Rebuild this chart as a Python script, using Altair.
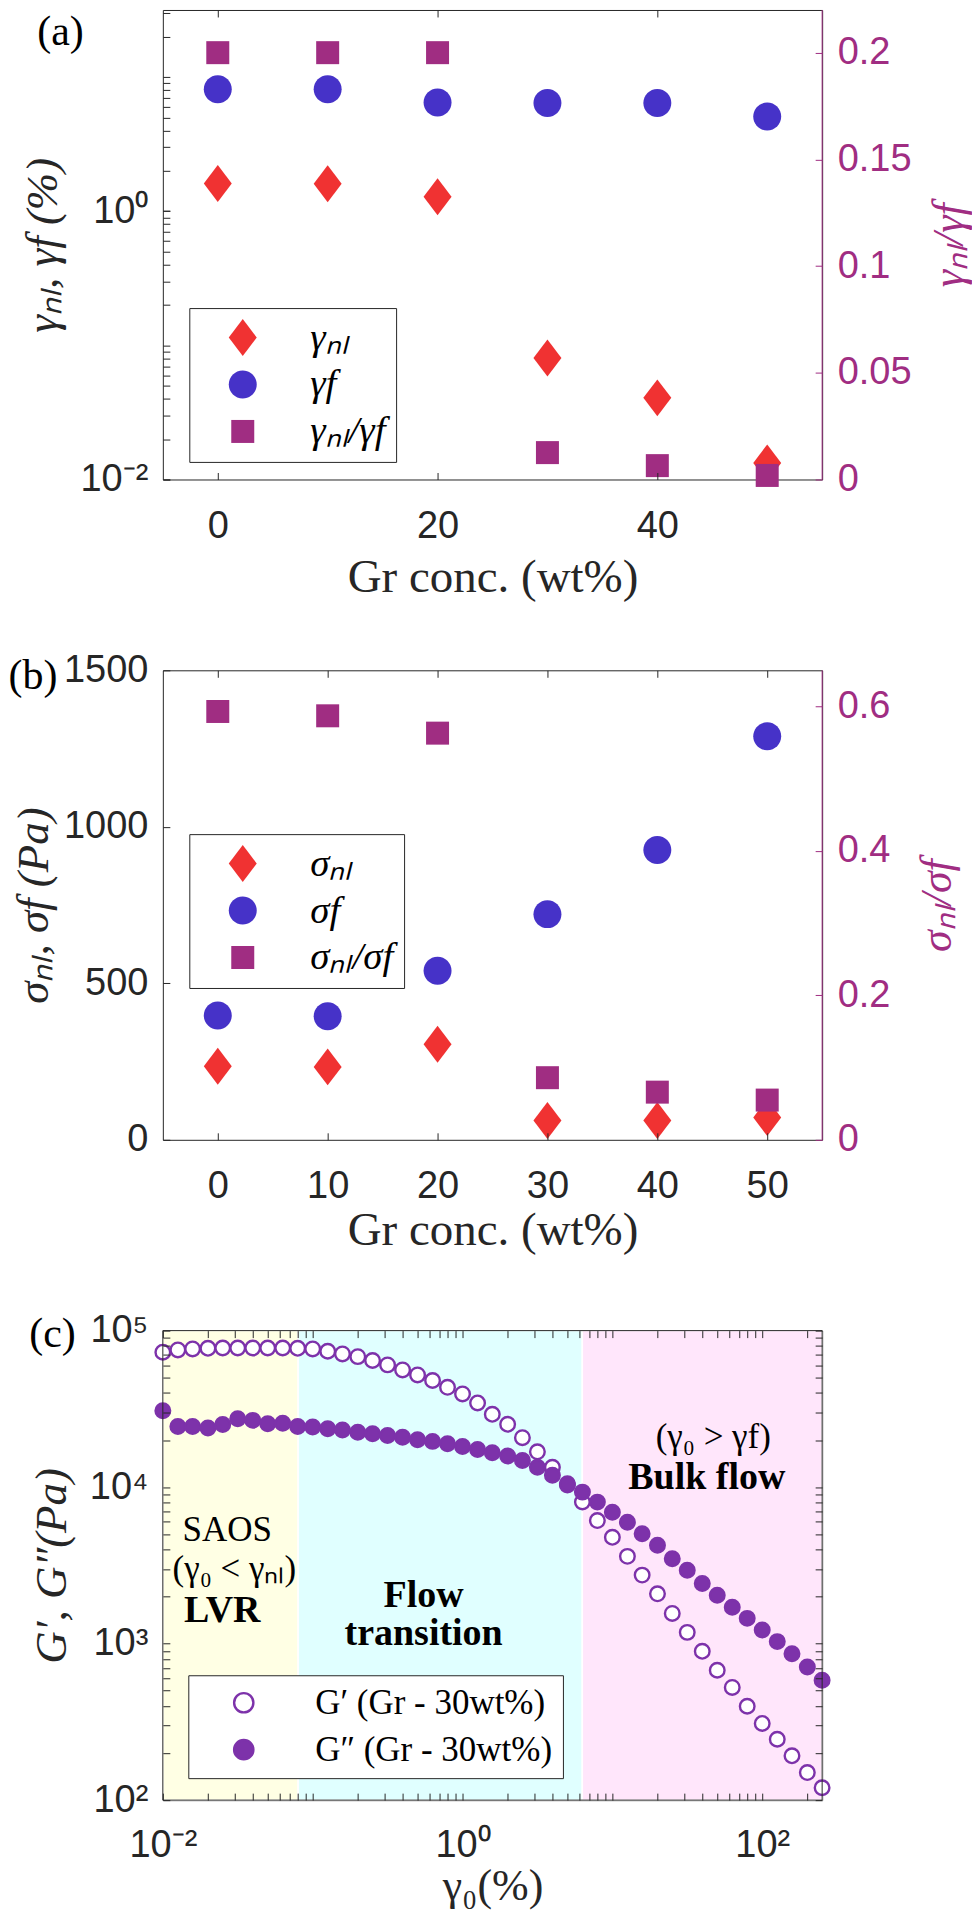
import altair as alt
import pandas as pd

# ---------------- data ----------------
GR_CONC = [0, 10, 20, 30, 40, 50]
GAMMA_NL = [1.61, 1.60, 1.28, 0.0805, 0.0406, 0.0133]
GAMMA_F = [8.1, 8.1, 6.45, 6.4, 6.4, 5.08]
GAMMA_RATIO = [0.200, 0.200, 0.200, 0.0126, 0.0065, 0.0019]

SIGMA_NL = [235, 233, 305, 62, 62, 71]
SIGMA_F = [397, 395, 540, 721, 926, 1289]
SIGMA_RATIO = [0.593, 0.587, 0.563, 0.086, 0.066, 0.055]

GAMMA0 = [0.01, 0.0126, 0.0158, 0.02, 0.0251, 0.0316, 0.0398, 0.0501, 0.0631, 0.0794,
          0.1, 0.126, 0.158, 0.2, 0.251, 0.316, 0.398, 0.501, 0.631, 0.794,
          1, 1.26, 1.58, 2, 2.51, 3.16, 3.98, 5.01, 6.31, 7.94,
          10, 12.6, 15.8, 20, 25.1, 31.6, 39.8, 50.1, 63.1, 79.4,
          100, 126, 158, 200, 251]
G_PRIME = [72800, 75300, 76400, 77100, 77400, 77400, 77400, 77400, 77400, 77100,
           76400, 73800, 71000, 68200, 64400, 60400, 56100, 52100, 48000, 43400,
           39400, 34500, 29200, 25200, 20700, 16800, 13400, 10300, 8040, 6110,
           4780, 3610, 2740, 2080, 1560, 1180, 893, 676, 525, 398,
           309, 245, 192, 150, 120]
G_DPRIME = [30800, 24400, 24400, 23900, 25100, 27300, 26700, 25400, 25600, 24400,
            24200, 23600, 23200, 22400, 21900, 21400, 20800, 20100, 19600, 18900,
            18200, 17400, 16600, 15800, 14800, 13400, 11900, 10500, 9290, 8020,
            6920, 5970, 5040, 4250, 3490, 2940, 2420, 2040, 1710, 1450,
            1220, 1030, 863, 710, 583]

REGION_NAMES = ["LVR", "Flow transition", "Bulk flow"]
REGION_LO = [0.01, 0.08, 6.3]
REGION_HI = [0.08, 6.3, 251.19]

ANNOT_TEXT = ["SAOS", "(γ₀ < γₙₗ)", "(γ₀ > γf)"]
ANNOT_X = [0.0269, 0.030, 47.1]
ANNOT_Y = [5290, 2980, 20750]
BOLD_TEXT = ["LVR", "Flow\ntransition", "Bulk flow"]
BOLD_X = [0.0249, 0.55, 42.7]
BOLD_Y = [1608, 2000, 11360]

SER_A = ["γₙₗ", "γf", "γₙₗ/γf"]
SER_B = ["σₙₗ", "σf", "σₙₗ/σf"]
SER_C = ["G′ (Gr - 30wt%)", "G″ (Gr - 30wt%)"]

# ---------------- style ----------------
RED = "#F03232"
BLUE = "#4632C8"
MAG = "#A02D82"
PURPLE = "#7D32AA"
DARK = "#262626"
SANS = "Liberation Sans"
SERIF = "Liberation Serif"
REGION_COLORS = ["#FFFFE4", "#E0FFFF", "#FFE6FB"]

# custom marker paths (drawn with size 1369 -> 1 unit = 18.5 px)
DIAMOND = "M0,-1L0.757,0L0,1L-0.757,0Z"
CIRCLE = "M0.757,0A0.757,0.757,0,1,1,-0.757,0A0.757,0.757,0,1,1,0.757,0Z"
SQUARE = "M-0.622,-0.622H0.622V0.622H-0.622Z"
MSIZE = 1369

W, H = 660, 470

LOG_A = [0.01, 0.02, 0.03, 0.04, 0.05, 0.06, 0.07, 0.08, 0.09,
         0.1, 0.2, 0.3, 0.4, 0.5, 0.6, 0.7, 0.8, 0.9,
         1, 2, 3, 4, 5, 6, 7, 8, 9, 10, 20, 30]
LOG_CX = [0.01, 0.02, 0.03, 0.04, 0.05, 0.06, 0.07, 0.08, 0.09,
          0.1, 0.2, 0.3, 0.4, 0.5, 0.6, 0.7, 0.8, 0.9,
          1, 2, 3, 4, 5, 6, 7, 8, 9,
          10, 20, 30, 40, 50, 60, 70, 80, 90, 100, 200]
LOG_CY = [100, 200, 300, 400, 500, 600, 700, 800, 900,
          1000, 2000, 3000, 4000, 5000, 6000, 7000, 8000, 9000,
          10000, 20000, 30000, 40000, 50000, 60000, 70000, 80000, 90000, 100000]


def ax(**kw):
    base = dict(offset=-7, tickSize=7, domain=False, grid=False, tickColor=DARK,
                tickWidth=1, labelColor=DARK, labelFont=SANS, labelFontSize=38,
                labelFlush=False, labelOverlap=False, zindex=1)
    base.update(kw)
    return alt.Axis(**base)


def title_kw(text, italic=True, size=45, color=DARK):
    d = dict(title=text, titleFont=SERIF, titleFontSize=size, titleFontWeight="normal",
             titleColor=color, titleBaseline="middle")
    if italic:
        d["titleFontStyle"] = "italic"
    return d


def panel_label(text, px, py, align="center"):
    return alt.Chart(alt.Data(values=[{"t": text}])).mark_text(
        font=SERIF, fontSize=42, align=align, baseline="middle", color="black"
    ).encode(x=alt.value(px), y=alt.value(py), text="t:N")


def panel_ab(values_l, values_r, ser, left_scale, left_axis, right_scale, right_axis,
             xticks, xtitle_y, legend_y, label, left_minor_axis=None):
    df = pd.DataFrame({
        "x": GR_CONC * 3,
        "series": [ser[0]] * 6 + [ser[1]] * 6 + [ser[2]] * 6,
        "value": values_l[0] + values_l[1] + values_r,
    })
    sx = alt.Scale(domain=[-5, 55], nice=False, zero=False)
    leg = alt.Legend(orient="none", legendX=26.5, legendY=legend_y, title=None,
                     direction="vertical", strokeColor=DARK, fillColor="white",
                     padding=10, symbolOffset=24, labelOffset=48, rowPadding=7,
                     symbolSize=MSIZE, symbolStrokeWidth=0, labelFont=SERIF,
                     labelFontStyle="italic", labelFontSize=39, labelColor="black",
                     labelLimit=400)
    color = alt.Color("series:N", scale=alt.Scale(domain=ser, range=[RED, BLUE, MAG]), legend=leg)
    shape = alt.Shape("series:N", scale=alt.Scale(domain=ser, range=[DIAMOND, CIRCLE, SQUARE]), legend=leg)
    left_filter = alt.FieldOneOfPredicate(field="series", oneOf=ser[:2])

    left = alt.Chart(df).transform_filter(left_filter).mark_point(
        filled=True, size=MSIZE, opacity=1, strokeWidth=0).encode(
        x=alt.X("x:Q", scale=sx, axis=ax(orient="bottom", values=xticks, labelPadding=28,
                                          titleY=xtitle_y,
                                          **title_kw("Gr conc. (wt%)", italic=False, size=47))),
        y=alt.Y("value:Q", scale=left_scale, axis=left_axis),
        color=color, shape=shape,
    )
    right = alt.Chart(df).transform_filter(
        alt.FieldEqualPredicate(field="series", equal=ser[2])
    ).mark_point(filled=True, size=MSIZE, opacity=1, strokeWidth=0).encode(
        x=alt.X("x:Q", scale=sx, axis=ax(orient="top", values=xticks, labels=False, title=None)),
        y=alt.Y("value:Q", scale=right_scale, axis=right_axis),
        color=color, shape=shape,
    )
    edge = alt.Chart(alt.Data(values=[{"k": 1}])).mark_rule(color=MAG, strokeWidth=1).encode(
        x=alt.value(W), y=alt.value(0), y2=alt.value(H))
    layers = [left, right]
    if left_minor_axis is not None:
        minor = alt.Chart(df).transform_filter(left_filter).mark_point(opacity=0).encode(
            x=alt.X("x:Q", scale=sx, axis=None),
            y=alt.Y("value:Q", scale=left_scale, axis=left_minor_axis),
        )
        layers.append(minor)
    layers += [edge, label]
    return alt.layer(*layers).resolve_scale(y="independent").resolve_axis(
        x="independent", y="independent").properties(width=W, height=H)


# ---------------- panel (a) ----------------
a_left_axis = ax(orient="left", values=[0.01, 1], labelPadding=15,
                 labelExpr="datum.value == 0.01 ? '10⁻²' : '10⁰'",
                 titleAngle=270, titleX=-127.5, **title_kw("γₙₗ, γf (%)"))
a_left_minor = ax(orient="left", values=LOG_A, labels=False, title=None)
a_right_axis = ax(orient="right", values=[0, 0.05, 0.1, 0.15, 0.2], format="~g", labelPadding=15,
                  labelColor=MAG, tickColor=MAG, titleAngle=270, titleX=134,
                  **title_kw("γₙₗ/γf", color=MAG, size=44))
panel_a = panel_ab([GAMMA_NL, GAMMA_F], GAMMA_RATIO, SER_A,
                   alt.Scale(type="log", domain=[0.01, 31.62], nice=False), a_left_axis,
                   alt.Scale(domain=[0, 0.22], nice=False, zero=False), a_right_axis,
                   [0, 20, 40], 105, 298.4, panel_label("(a)", -102.5, 22),
                   left_minor_axis=a_left_minor)

# ---------------- panel (b) ----------------
b_left_axis = ax(orient="left", values=[0, 500, 1000, 1500], format="d", labelPadding=15,
                 titleAngle=270, titleX=-136.5, **title_kw("σₙₗ, σf (Pa)"))
b_right_axis = ax(orient="right", values=[0, 0.2, 0.4, 0.6], format="~g", labelPadding=15,
                  labelColor=MAG, tickColor=MAG, titleAngle=270, titleX=122,
                  **title_kw("σₙₗ/σf", color=MAG, size=44))
panel_b = panel_ab([SIGMA_NL, SIGMA_F], SIGMA_RATIO, SER_B,
                   alt.Scale(domain=[0, 1500], nice=False, zero=False), b_left_axis,
                   alt.Scale(domain=[0, 0.65], nice=False, zero=False), b_right_axis,
                   [0, 10, 20, 30, 40, 50], 98, 164, panel_label("(b)", -154.5, 6, align="left"))

# ---------------- panel (c) ----------------
sxc = alt.Scale(type="log", domain=[0.01, 251.19], nice=False)
syc = alt.Scale(type="log", domain=[100, 100000], nice=False)

df_c = pd.DataFrame({
    "g0": GAMMA0 * 2,
    "G": G_PRIME + G_DPRIME,
    "series": [SER_C[0]] * len(GAMMA0) + [SER_C[1]] * len(GAMMA0),
})
df_r = pd.DataFrame({"name": REGION_NAMES, "lo": REGION_LO, "hi": REGION_HI})
df_t = pd.DataFrame({"t": ANNOT_TEXT, "x": ANNOT_X, "y": ANNOT_Y})
df_tb = pd.DataFrame({"t": BOLD_TEXT, "x": BOLD_X, "y": BOLD_Y})

leg_c = alt.Legend(orient="none", legendX=25.5, legendY=345, title=None, direction="vertical",
                   strokeColor=DARK, fillColor="white", padding=10, symbolOffset=28,
                   labelOffset=54, rowPadding=11, symbolSize=372, symbolType="circle",
                   symbolStrokeColor=PURPLE, symbolStrokeWidth=2.4, labelFont=SERIF,
                   labelFontSize=35, labelColor="black", labelLimit=500)
fill_c = alt.Fill("series:N", scale=alt.Scale(domain=SER_C, range=["white", PURPLE]), legend=leg_c)

regions = alt.Chart(df_r).mark_rect(stroke="white", strokeWidth=1.5).encode(
    x=alt.X("lo:Q", scale=sxc, axis=None), x2="hi:Q",
    y=alt.value(0), y2=alt.value(H),
    color=alt.Color("name:N", scale=alt.Scale(domain=REGION_NAMES, range=REGION_COLORS), legend=None),
)
gp = alt.Chart(df_c).transform_filter(
    alt.FieldEqualPredicate(field="series", equal=SER_C[0])
).mark_point(shape="circle", filled=True, size=213, stroke=PURPLE, strokeWidth=2.4, opacity=1).encode(
    x=alt.X("g0:Q", scale=sxc,
            axis=ax(orient="bottom", values=LOG_CX, labelPadding=26,
                    labelExpr="datum.value == 0.01 ? '10⁻²' : (datum.value == 1 ? '10⁰' : (datum.value == 100 ? '10²' : ''))",
                    titleY=93, **title_kw("γ₀(%)", italic=False, size=44))),
    y=alt.Y("G:Q", scale=syc,
            axis=ax(orient="left", values=LOG_CY, labelPadding=15,
                    labelExpr="datum.value == 100 ? '10²' : (datum.value == 1000 ? '10³' : (datum.value == 10000 ? '10⁴' : (datum.value == 100000 ? '10⁵' : '')))",
                    titleAngle=270, titleX=-118.5, **title_kw("G′, G″(Pa)"))),
    fill=fill_c,
)
gpp = alt.Chart(df_c).transform_filter(
    alt.FieldEqualPredicate(field="series", equal=SER_C[1])
).mark_point(shape="circle", filled=True, size=213, stroke=PURPLE, strokeWidth=2.4, opacity=1).encode(
    x=alt.X("g0:Q", scale=sxc, axis=ax(orient="top", values=LOG_CX, labels=False, title=None)),
    y=alt.Y("G:Q", scale=syc, axis=ax(orient="right", values=LOG_CY, labels=False, title=None)),
    fill=fill_c,
)
annot = alt.Chart(df_t).mark_text(font=SERIF, fontSize=35, color="black", baseline="middle").encode(
    x=alt.X("x:Q", scale=sxc, axis=None), y=alt.Y("y:Q", scale=syc, axis=None), text="t:N")
annot_b = alt.Chart(df_tb).mark_text(font=SERIF, fontSize=38, fontWeight="bold", color="black",
                                     baseline="middle", lineBreak="\n", lineHeight=38).encode(
    x=alt.X("x:Q", scale=sxc, axis=None), y=alt.Y("y:Q", scale=syc, axis=None), text="t:N")
frame = alt.Chart(alt.Data(values=[{"k": 1}])).mark_rect(fillOpacity=0, stroke=DARK, strokeWidth=1).encode(
    x=alt.value(0), x2=alt.value(W), y=alt.value(0), y2=alt.value(H))

panel_c = alt.layer(regions, gp, gpp, annot, annot_b, panel_label("(c)", -110.5, 3), frame).resolve_axis(
    x="independent", y="independent").properties(width=W, height=H)

chart = alt.vconcat(panel_a, panel_b, panel_c, spacing=191, bounds="flush").resolve_scale(
    color="independent", shape="independent", fill="independent"
).resolve_legend(
    color="independent", shape="independent", fill="independent"
).properties(padding=0).configure(background="white").configure_view(stroke=DARK, strokeWidth=1)

chart.save("out.html", embed_options={"renderer": "svg", "actions": False})
